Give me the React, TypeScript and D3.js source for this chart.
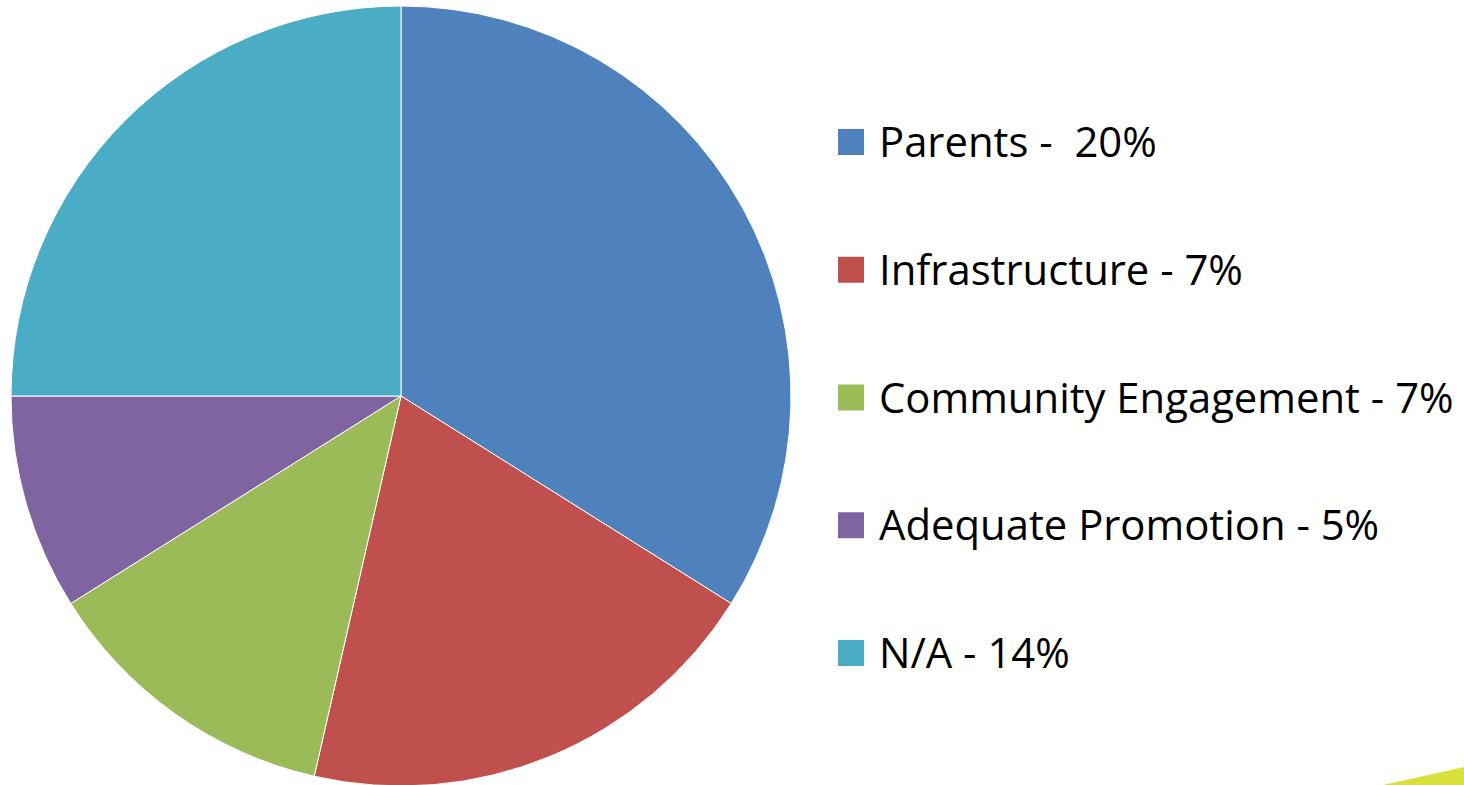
import React from "react";
import * as d3 from "d3";

// slice values
const categories = ["Parents", "Infrastructure", "Community Engagement", "Adequate Promotion", "N/A"];
const values = [19, 11, 7, 5, 14];
const legendLabels = ["Parents -  20%", "Infrastructure - 7%", "Community Engagement - 7%", "Adequate Promotion - 5%", "N/A - 14%"];
const colors = ["#4F81BD", "#C0504D", "#9BBB59", "#8064A2", "#4BACC6"];

const width = 1464;
const height = 785;

export default function App() {
    const cx = 401;
    const cy = 396;
    const radius = 390;

    const data = categories.map((c, i) => ({ name: c, value: values[i] }));
    const pie = d3.pie<any>().value((d) => d.value).sort(null);
    const arcs = pie(data);
    const arc = d3.arc<any>().innerRadius(0).outerRadius(radius);

    // legend rows
    const legendY = d3.scalePoint().domain(categories).range([142, 653]);

    return (
        <svg
            width={width}
            height={height}
            style={{ position: "absolute", left: 0, top: 0, background: "#fff" }}
        >
            <g transform={`translate(${cx},${cy})`}>
                {arcs.map((a, i) => (
                    <path key={i} d={arc(a) || ""} fill={colors[i]} stroke="#fff" strokeWidth={1} />
                ))}
            </g>

            {/* Legend */}
            {categories.map((c, i) => (
                <g key={c} transform={`translate(838,${legendY(c)})`}>
                    <rect x={0} y={-13} width={26} height={26} fill={colors[i]} />
                    <text
                        x={41}
                        y={0}
                        dy="0.36em"
                        fontFamily="'Open Sans', sans-serif"
                        fontSize={41.8}
                        fill="#000"
                        style={{ whiteSpace: "pre" }}
                    >
                        {legendLabels[i]}
                    </text>
                </g>
            ))}

            {/* slide decoration bottom right */}
            <path d="M1383,785 L1464,767 L1464,785 Z" fill="#d8e03c" />
        </svg>
    );
}
